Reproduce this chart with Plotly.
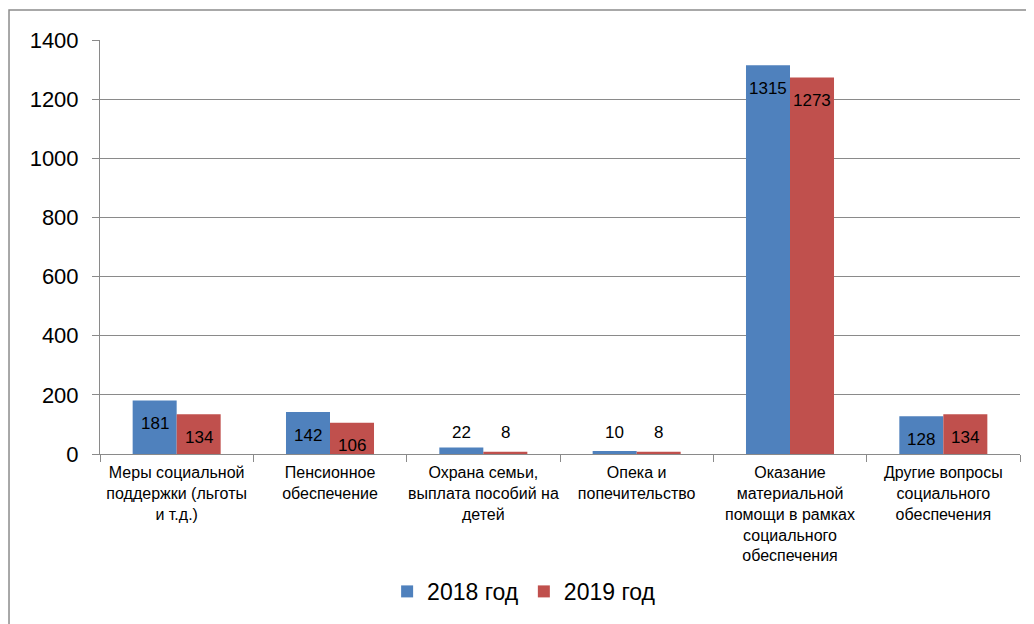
import plotly.graph_objects as go

categories = [
    "Меры социальной<br>поддержки (льготы<br>и т.д.)",
    "Пенсионное<br>обеспечение",
    "Охрана семьи,<br>выплата пособий на<br>детей",
    "Опека и<br>попечительство",
    "Оказание<br>материальной<br>помощи в рамках<br>социального<br>обеспечения",
    "Другие вопросы<br>социального<br>обеспечения",
]
series_names = ["2018 год", "2019 год"]
values_2018 = [181, 142, 22, 10, 1315, 128]
values_2019 = [134, 106, 8, 8, 1273, 134]
y_ticks = [0, 200, 400, 600, 800, 1000, 1200, 1400]

colors = ["#4F81BD", "#C0504D"]
grid = "#8a8a8a"
font_family = "Liberation Sans, Arial, sans-serif"

fig = go.Figure()
for name, vals, col in zip(series_names, [values_2018, values_2019], colors):
    fig.add_trace(go.Bar(
        x=categories, y=vals, name=name,
        marker=dict(color=col, line=dict(width=0)),
    ))

ymax = 1400
annotations = []
for vals, shift in zip([values_2018, values_2019], [-22, 22]):
    for cat, v in zip(categories, vals):
        inside = v >= 0.05 * ymax
        annotations.append(dict(
            x=cat, y=v if inside else 0, xref="x", yref="y",
            text=str(v), showarrow=False, xshift=shift,
            yshift=-23 if inside else 22, yanchor="middle",
            font=dict(size=17, color="#000000", family=font_family),
        ))

fig.update_layout(
    width=1034, height=624,
    margin=dict(l=92, r=22, t=32, b=178, autoexpand=False),
    paper_bgcolor="white", plot_bgcolor="white",
    barmode="group", bargap=0.426, bargroupgap=0,
    font=dict(family=font_family, color="#000000"),
    showlegend=True,
    legend=dict(orientation="h", x=0.461, xanchor="center", y=-0.332, yanchor="middle",
                font=dict(size=23), itemsizing="constant"),
    annotations=annotations,
    shapes=[dict(type="rect", xref="paper", yref="paper",
                 x0=-0.0989, x1=1.05, y0=-0.45, y1=1.0725,
                 line=dict(color="#8c8c8c", width=1.5), fillcolor="rgba(0,0,0,0)",
                 layer="below")],
)
fig.update_yaxes(range=[0, ymax], tickvals=y_ticks, showgrid=True, gridcolor=grid, gridwidth=1,
                 showline=True, linecolor=grid, linewidth=1, ticks="outside", ticklen=7,
                 tickcolor=grid, tickfont=dict(size=22), ticklabelstandoff=9, zeroline=False,
                 automargin=False)
fig.update_xaxes(showline=True, linecolor=grid, linewidth=1, ticks="outside", ticklen=7,
                 tickcolor=grid, tickson="boundaries", tickfont=dict(size=16), tickangle=0,
                 ticklabelstandoff=4, mirror=False, automargin=False)

fig.write_html("out.html")
